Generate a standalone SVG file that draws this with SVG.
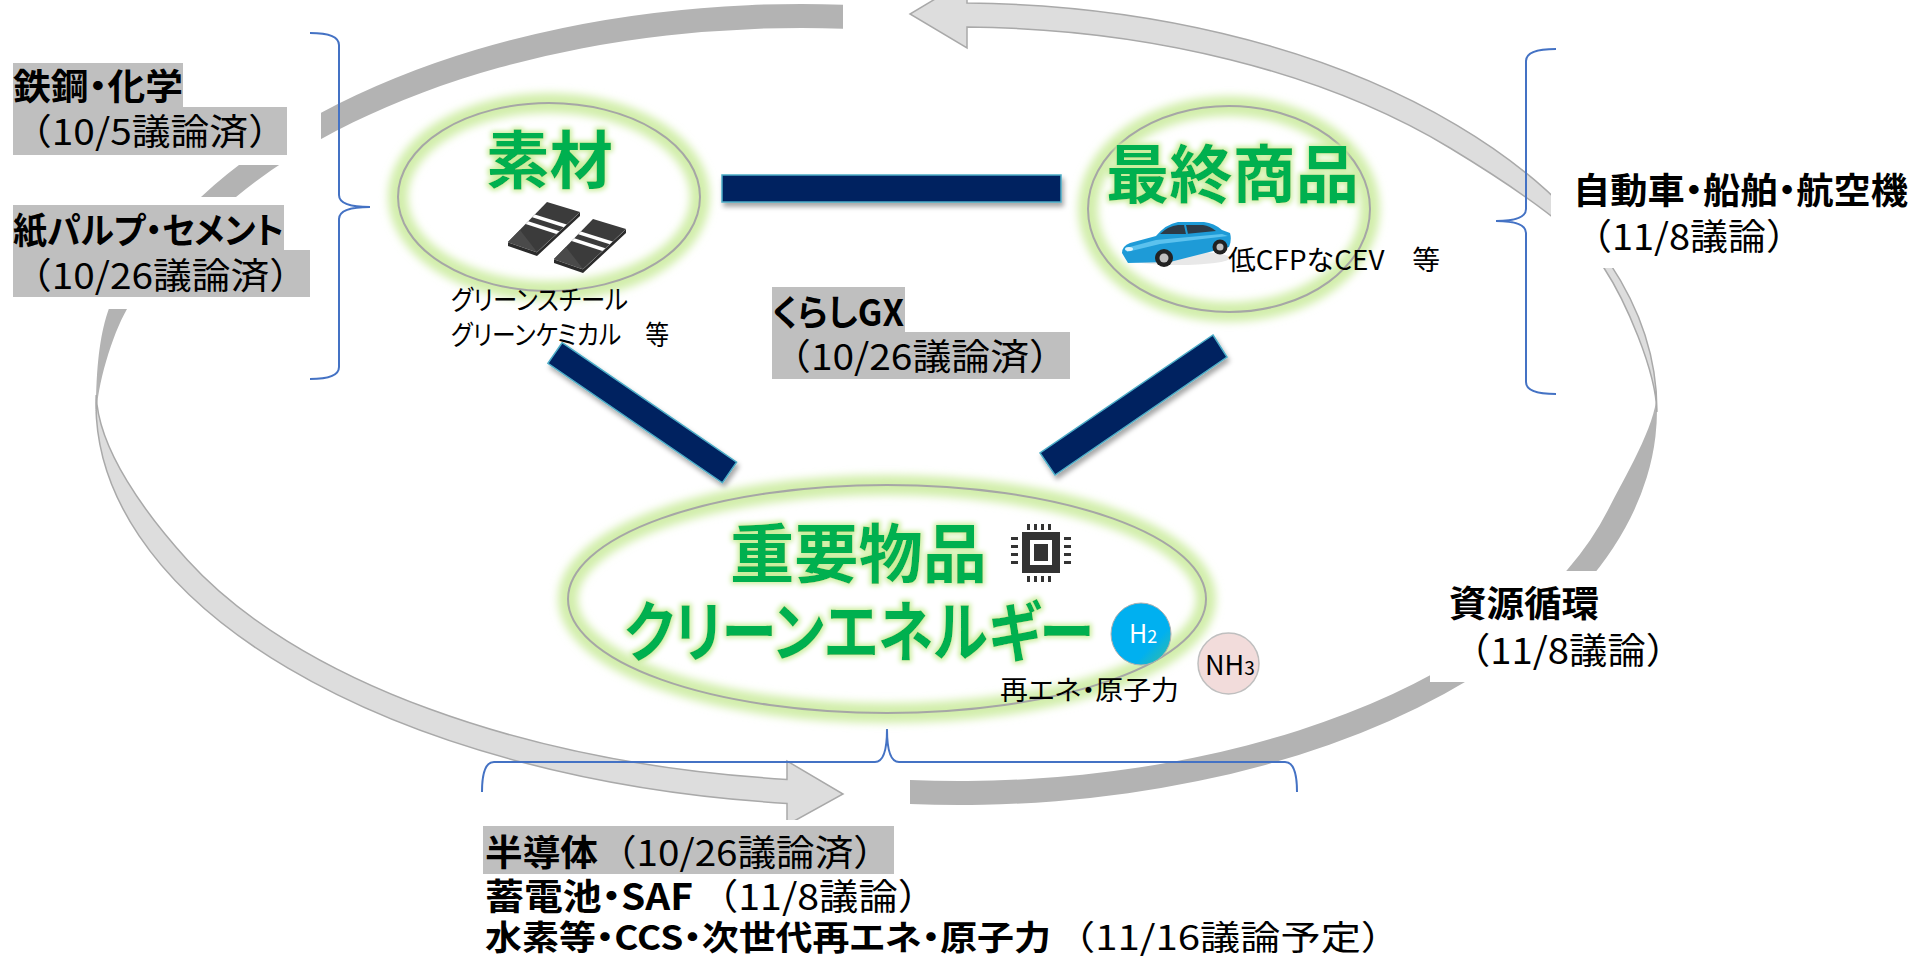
<svg xmlns="http://www.w3.org/2000/svg" width="1927" height="960" viewBox="0 0 1927 960">
<defs>
<style>
text { font-family: 'Noto Sans CJK JP', 'Noto Sans', sans-serif; }
.lbl { font-size: 36px; fill: #000; }
.b { font-weight: 700; }
.tight { font-feature-settings: "palt" 1; }
.sm { font-size: 27px; fill: #000; }
.hl { fill: #bfbfbf; }
.ttl { fill: #00b050; font-weight: 700; filter: url(#txtGlow); }
.brace { fill: none; stroke: #4472c4; stroke-width: 2; }
.dark { fill: #b3b3b3; }
.light { fill: #dddddd; stroke: #a9a9a9; stroke-width: 1.5; }
.bar { fill: #002060; stroke: #4bacc6; stroke-width: 1.5; filter: url(#barShadow); }
.ring { fill: none; stroke: #a6a6a6; stroke-width: 2; }
.halo { fill: none; stroke: #d2eeab; stroke-width: 20; filter: url(#soft); }
.mask { fill: #ffffff; }
.chip { fill: #333333; }
</style>
<filter id="soft" x="-20%" y="-40%" width="140%" height="180%">
  <feGaussianBlur stdDeviation="4.5"/>
</filter>
<filter id="txtGlow" x="-20%" y="-40%" width="140%" height="180%">
  <feMorphology in="SourceAlpha" operator="dilate" radius="2" result="d"/>
  <feGaussianBlur in="d" stdDeviation="2.5" result="b"/>
  <feFlood flood-color="#cbee9e"/>
  <feComposite in2="b" operator="in" result="g"/>
  <feMerge><feMergeNode in="g"/><feMergeNode in="SourceGraphic"/></feMerge>
</filter>
<filter id="barShadow" x="-20%" y="-30%" width="150%" height="180%">
  <feDropShadow dx="2" dy="4" stdDeviation="2.5" flood-color="#000" flood-opacity="0.35"/>
</filter>
<linearGradient id="h2fill" x1="0" y1="0" x2="1" y2="1">
  <stop offset="0" stop-color="#00b0f0"/>
  <stop offset="0.68" stop-color="#00b0f0"/>
  <stop offset="1" stop-color="#3dbf96"/>
</linearGradient>
</defs>

<rect x="0" y="0" width="1927" height="960" fill="#ffffff"/>

<!-- cycle swooshes: two tapered tails and two arrows -->
<g id="cycle">
  <path class="dark" d="M843,4.7 A705,406 0 0 0 201,197 C120.6,272 96,290 96,418 C97,385 112,335 127,309 C149.5,270 201.4,225.8 236,197 A681,382 0 0 1 843,28.7 Z"/>
  <path class="dark" d="M910,804 A698,395 0 0 0 1656.5,395 C1656,425 1623.9,478.8 1608,510 A674,371 0 0 1 910,780 Z"/>
  <path class="light" d="M96.2,395 A780,402 0 0 0 787,803.4 L787,825 L843,794 L787,761 L787,779.4 A756,378 0 0 1 187.4,560 C147,515.5 98,450 96.2,395 Z"/>
  <path class="light" d="M967,3.1 A700,407 0 0 1 1656.9,412 C1656,370 1625,300 1604,268 C1576.5,226 1492.8,173.9 1450,148 A676,383 0 0 0 967,27.1 L967,48 L910,14 L967,-20 Z"/>
</g>

<!-- braces -->
<g id="braces">
  <path class="brace" d="M310,33 Q339,33 339,45 L339,195 Q339,207 370,207 Q339,207 339,219 L339,367 Q339,379 310,379"/>
  <path class="brace" d="M1556,49 Q1526,49 1526,61 L1526,209 Q1526,221 1496,221 Q1526,221 1526,233 L1526,382 Q1526,394 1556,394"/>
  <path class="brace" d="M482,792 Q482,762 494,762 L875,762 Q887,762 887,729 Q887,762 899,762 L1285,762 Q1297,762 1297,792"/>
</g>

<!-- sector labels -->
<g id="label-steel">
  <rect class="mask" x="0" y="52" width="321" height="113"/>
  <rect class="hl" x="13" y="63" width="170" height="44"/>
  <rect class="hl" x="13" y="107" width="274" height="48"/>
  <text class="lbl"><tspan class="b tight" x="13" y="100" textLength="170" lengthAdjust="spacingAndGlyphs">鉄鋼・化学</tspan><tspan x="13" y="145" textLength="274" lengthAdjust="spacingAndGlyphs">（10/5議論済）</tspan></text>
</g>
<g id="label-paper">
  <rect class="mask" x="0" y="197" width="321" height="112"/>
  <rect class="hl" x="13" y="205" width="271" height="45"/>
  <rect class="hl" x="13" y="250" width="297" height="47"/>
  <text class="lbl"><tspan class="b tight" x="13" y="244" textLength="271" lengthAdjust="spacingAndGlyphs">紙パルプ・セメント</tspan><tspan x="13" y="289" textLength="295" lengthAdjust="spacingAndGlyphs">（10/26議論済）</tspan></text>
</g>
<g id="label-kurashi">
  <rect class="hl" x="772" y="287" width="133" height="45"/>
  <rect class="hl" x="772" y="332" width="298" height="47"/>
  <text class="lbl"><tspan class="b tight" x="772" y="326" textLength="132" lengthAdjust="spacingAndGlyphs">くらしGX</tspan><tspan x="772" y="370" textLength="296" lengthAdjust="spacingAndGlyphs">（10/26議論済）</tspan></text>
</g>
<g id="label-mobility">
  <rect class="mask" x="1551" y="150" width="376" height="118"/>
  <text class="lbl"><tspan class="b tight" x="1573" y="204" textLength="335" lengthAdjust="spacingAndGlyphs">自動車・船舶・航空機</tspan><tspan x="1574" y="250" textLength="230" lengthAdjust="spacingAndGlyphs">（11/8議論）</tspan></text>
</g>
<g id="label-circular">
  <rect class="mask" x="1430" y="571" width="300" height="111"/>
  <text class="lbl"><tspan class="b" x="1449" y="617" textLength="150" lengthAdjust="spacingAndGlyphs">資源循環</tspan><tspan x="1452" y="664" textLength="232" lengthAdjust="spacingAndGlyphs">（11/8議論）</tspan></text>
</g>
<g id="label-energy">
  <rect class="mask" x="480" y="820" width="940" height="140"/>
  <rect class="hl" x="483" y="826" width="411" height="48"/>
  <text class="lbl"><tspan class="b" x="485" y="866" textLength="113" lengthAdjust="spacingAndGlyphs">半導体</tspan><tspan x="598" y="866" textLength="294" lengthAdjust="spacingAndGlyphs">（10/26議論済）</tspan><tspan class="b tight" x="485" y="910" textLength="208" lengthAdjust="spacingAndGlyphs">蓄電池・SAF</tspan><tspan x="699" y="910" textLength="238" lengthAdjust="spacingAndGlyphs">（11/8議論）</tspan><tspan class="b tight" x="485" y="950" font-size="34" textLength="566" lengthAdjust="spacingAndGlyphs">水素等・CCS・次世代再エネ・原子力</tspan><tspan x="1055" y="950" font-size="34" textLength="346" lengthAdjust="spacingAndGlyphs">（11/16議論予定）</tspan></text>
</g>

<!-- connectors between the three nodes -->
<g id="connectors">
  <rect class="bar" x="722" y="175" width="339" height="27"/>
  <polygon class="bar" points="562.1,342.7 736.6,462.2 722.4,482.8 547.9,363.3"/>
  <polygon class="bar" points="1213,335 1227,357 1055,475 1040,453"/>
</g>

<!-- node: materials -->
<g id="node-materials">
  <ellipse class="halo" cx="549" cy="197" rx="151" ry="94"/>
  <ellipse class="ring" cx="549" cy="197" rx="151" ry="94"/>
  <text class="ttl" x="486" y="183" font-size="63" textLength="127" lengthAdjust="spacingAndGlyphs">素材</text>
  <g id="steel-icon">
    <polygon fill="#2b2b2b" points="508,246 537,256 580,216 580,212 537,252 508,242"/>
    <polyline fill="none" stroke="#9a9a9a" stroke-width="1" points="508,242 537,252 580,212"/>
    <polygon fill="#3b3b3b" points="508,242 547,202 580,212 537,252"/>
    <polygon fill="#4a4a4a" points="508,242 520,230 537,252"/>
    <polygon fill="#ffffff" points="525.6,224 528.3,221.2 559.4,231.2 556.4,234"/>
    <polygon fill="#ffffff" points="532.2,217.2 534.9,214.4 566.7,224.4 563.7,227.2"/>
    <polygon fill="#2b2b2b" points="554,263 583,273 626,233 626,229 583,269 554,259"/>
    <polyline fill="none" stroke="#9a9a9a" stroke-width="1" points="554,259 583,269 626,229"/>
    <polygon fill="#3b3b3b" points="554,259 593,219 626,229 583,269"/>
    <polygon fill="#4a4a4a" points="554,259 566,247 583,269"/>
    <polygon fill="#ffffff" points="571.6,241 574.3,238.2 605.4,248.2 602.4,251"/>
    <polygon fill="#ffffff" points="578.2,234.2 580.9,231.4 612.7,241.4 609.7,244.2"/>
  </g>
  <text class="sm tight"><tspan x="451" y="310" textLength="177" lengthAdjust="spacingAndGlyphs">グリーンスチール</tspan><tspan x="451" y="345" textLength="218" lengthAdjust="spacingAndGlyphs">グリーンケミカル　等</tspan></text>
</g>

<!-- node: final products -->
<g id="node-final">
  <ellipse class="halo" cx="1229" cy="209" rx="141" ry="103"/>
  <ellipse class="ring" cx="1229" cy="209" rx="141" ry="103"/>
  <text class="ttl" x="1106" y="197" font-size="63" textLength="253" lengthAdjust="spacingAndGlyphs">最終商品</text>
  <g id="car-icon">
    <ellipse cx="1178" cy="258" rx="52" ry="7" fill="#d9d9d9" opacity="0.6"/>
    <path fill="#1e9bd7" d="M1128,263 L1122,253 Q1122,246 1130,243 L1156,236 Q1166,224 1178,222 L1204,222 Q1214,223 1222,230 L1230,233 Q1232,240 1229,247 L1170,262 Z"/>
    <path fill="#5cc2ee" d="M1126,248 L1156,240 L1222,234 L1228,236 L1160,244 L1127,252 Z"/>
    <path fill="#2d3b47" d="M1160,234 Q1168,226 1178,225 L1203,225 Q1210,226 1216,231 L1185,234 Z"/>
    <line x1="1185" y1="225" x2="1187" y2="234" stroke="#1e9bd7" stroke-width="2"/>
    <ellipse cx="1129" cy="249" rx="4" ry="2" fill="#dff3fc"/>
    <circle cx="1164" cy="258" r="9" fill="#222"/>
    <circle cx="1164" cy="258" r="4.5" fill="#c0c0c0"/>
    <circle cx="1220" cy="247" r="7.5" fill="#222"/>
    <circle cx="1220" cy="247" r="3.5" fill="#c0c0c0"/>
  </g>
  <text class="sm" x="1228" y="270" textLength="212" lengthAdjust="spacingAndGlyphs">低CFPなCEV　等</text>
</g>

<!-- node: key goods and clean energy -->
<g id="node-key">
  <ellipse class="halo" cx="887" cy="599" rx="319" ry="114"/>
  <ellipse class="ring" cx="887" cy="599" rx="319" ry="114"/>
  <text class="ttl tight"><tspan x="730" y="577" font-size="64" textLength="257" lengthAdjust="spacingAndGlyphs">重要物品</tspan><tspan x="624" y="656" font-size="66" textLength="470" lengthAdjust="spacingAndGlyphs">クリーンエネルギー</tspan></text>
  <g id="chip-icon">
    <rect class="chip" x="1022" y="532" width="38" height="41"/>
    <rect fill="#fff" x="1030" y="540" width="22" height="25"/>
    <rect class="chip" x="1034" y="544" width="14" height="17"/>
    <rect class="chip" x="1027" y="524" width="3" height="6"/>
    <rect class="chip" x="1034" y="524" width="3" height="6"/>
    <rect class="chip" x="1041" y="524" width="3" height="6"/>
    <rect class="chip" x="1048" y="524" width="3" height="6"/>
    <rect class="chip" x="1027" y="576" width="3" height="6"/>
    <rect class="chip" x="1034" y="576" width="3" height="6"/>
    <rect class="chip" x="1041" y="576" width="3" height="6"/>
    <rect class="chip" x="1048" y="576" width="3" height="6"/>
    <rect class="chip" x="1011" y="537" width="7" height="3"/>
    <rect class="chip" x="1011" y="545" width="7" height="3"/>
    <rect class="chip" x="1011" y="553" width="7" height="3"/>
    <rect class="chip" x="1011" y="561" width="7" height="3"/>
    <rect class="chip" x="1064" y="537" width="7" height="3"/>
    <rect class="chip" x="1064" y="545" width="7" height="3"/>
    <rect class="chip" x="1064" y="553" width="7" height="3"/>
    <rect class="chip" x="1064" y="561" width="7" height="3"/>
  </g>
  <g id="h2-badge">
    <ellipse cx="1141" cy="634" rx="30" ry="31" fill="url(#h2fill)" stroke="#b0b0b0" stroke-width="1"/>
    <text x="1129" y="643" font-size="25" fill="#fff">H<tspan font-size="18">2</tspan></text>
  </g>
  <g id="nh3-badge">
    <circle cx="1228.5" cy="663.5" r="30.5" fill="#f2dcdb" stroke="#bfbfbf" stroke-width="1.5"/>
    <text x="1205" y="675" font-size="27" fill="#000">NH<tspan font-size="19">3</tspan></text>
  </g>
  <text class="sm tight" x="1000" y="700" textLength="179" lengthAdjust="spacingAndGlyphs">再エネ・原子力</text>
</g>
</svg>
